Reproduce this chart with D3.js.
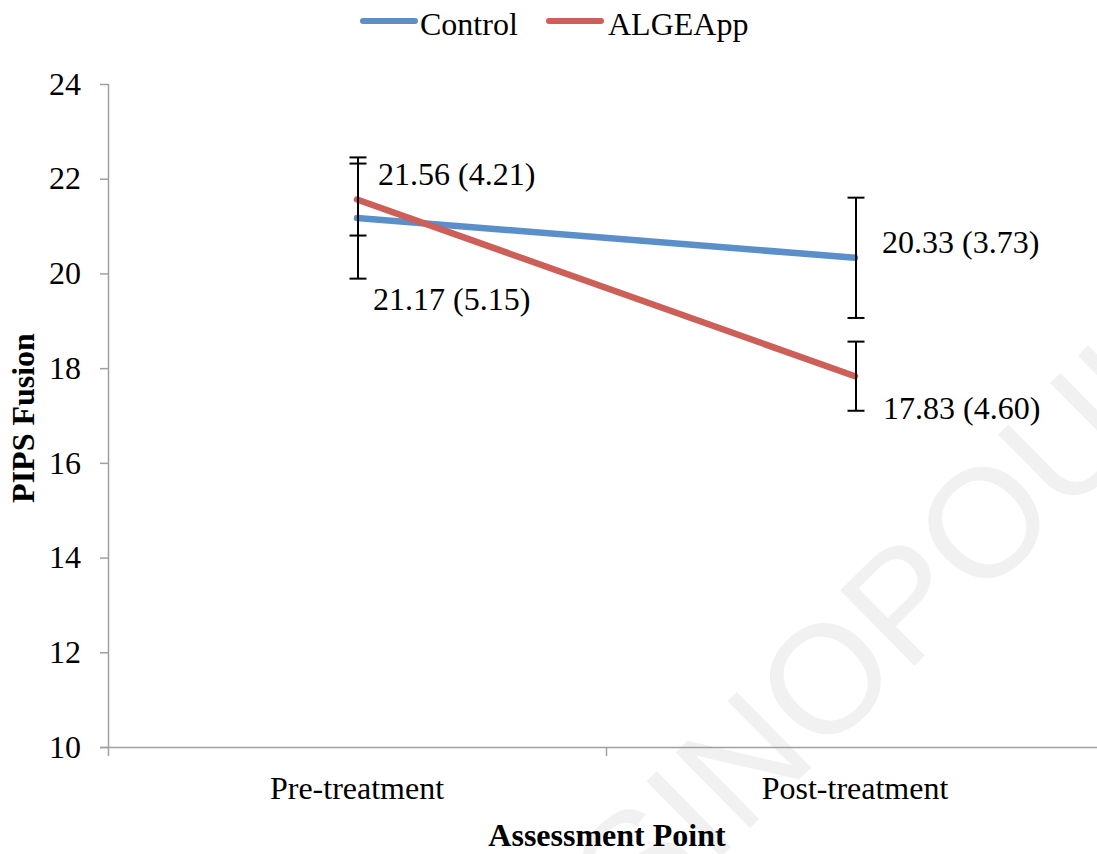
<!DOCTYPE html>
<html>
<head>
<meta charset="utf-8">
<script src="https://cdn.jsdelivr.net/npm/d3@7"></script>
<style>
  html, body { margin: 0; padding: 0; background: #fff; }
  svg { display: block; }
  text { font-family: "Liberation Serif", "Times New Roman", serif; }
</style>
</head>
<body>
<div id="chart"></div>
<script>
// ---- data ----
const categories = ["Pre-treatment", "Post-treatment"];
const seriesNames = ["Control", "ALGEApp"];
const controlMeans = [21.17, 20.33];
const controlSD = [5.15, 3.73];
const controlErr = [1.28, 1.27];
const algeMeans = [21.56, 17.83];
const algeSD = [4.21, 4.60];
const algeErr = [0.76, 0.73];
const yTicks = [10, 12, 14, 16, 18, 20, 22, 24];
const watermarkText = "SINOPOULOU";

// ---- layout ----
const W = 1097, H = 854;
const colors = { Control: "#5b8fc9", ALGEApp: "#cc5f58" };
// label offsets relative to the point (px)
const labelOffsets = {
  Control: [[16, 92], [27, -5]],
  ALGEApp: [[21, -15], [28, 43]]
};

const series = [
  { name: "Control", means: controlMeans, sd: controlSD, err: controlErr },
  { name: "ALGEApp", means: algeMeans, sd: algeSD, err: algeErr }
];

const svg = d3.select("#chart").append("svg")
  .attr("width", W).attr("height", H);

// watermark
const wm = svg.append("g")
  .attr("transform", "translate(824,677) rotate(-44.6)");
wm.append("text")
  .attr("x", -154 * 2.056)
  .attr("y", 154 * 0.36)
  .style("font-family", "'Liberation Sans', Arial, sans-serif")
  .attr("font-size", 154)
  .attr("fill", "#f1f1f1")
  .text(watermarkText);

const x = d3.scaleBand().domain(categories).range([108, 1104]).padding(0);
const y = d3.scaleLinear().domain([10, 24]).range([747, 84]);
const cx = c => x(c) + x.bandwidth() / 2;

const axisColor = "#a0a0a0";

// Y axis
const yAxis = svg.append("g").attr("transform", "translate(108,0)")
  .call(d3.axisLeft(y).tickValues(yTicks).tickSize(8).tickPadding(19).tickSizeOuter(0));
yAxis.select(".domain").attr("stroke", axisColor).attr("stroke-width", 1.5)
  .attr("d", `M0.5,${y(24)}V756`);
yAxis.selectAll(".tick line").attr("stroke", axisColor).attr("stroke-width", 1.5);
yAxis.selectAll(".tick text").attr("font-size", 32).attr("fill", "#000")
  .style("font-family", "'Liberation Serif', 'Times New Roman', serif");

// X axis
const xAxis = svg.append("g").attr("transform", `translate(0,${y(10)})`)
  .call(d3.axisBottom(x).tickSize(0).tickPadding(0));
xAxis.select(".domain").attr("stroke", axisColor).attr("stroke-width", 1.5)
  .attr("d", `M100,0.5H1104`);
xAxis.selectAll(".tick line").remove();
xAxis.selectAll(".tick text").attr("font-size", 32).attr("fill", "#000")
  .attr("dy", 0).attr("y", 52)
  .style("font-family", "'Liberation Serif', 'Times New Roman', serif");
// category boundary ticks
xAxis.selectAll(".bound").data(categories.slice(1)).enter().append("line")
  .attr("class", "bound")
  .attr("x1", d => x(d) + 0.5).attr("x2", d => x(d) + 0.5)
  .attr("y1", 0).attr("y2", 9)
  .attr("stroke", axisColor).attr("stroke-width", 1.5);

// axis titles
svg.append("text")
  .attr("x", 607).attr("y", 846)
  .attr("text-anchor", "middle").attr("font-size", 32).attr("font-weight", "bold")
  .text("Assessment Point");
svg.append("text")
  .attr("transform", "translate(34,418) rotate(-90)")
  .attr("text-anchor", "middle").attr("font-size", 32).attr("font-weight", "bold")
  .text("PIPS Fusion");

// lines
const line = d3.line().x(d => cx(d.c)).y(d => y(d.v));
series.forEach(s => {
  svg.append("path")
    .datum(categories.map((c, i) => ({ c, v: s.means[i] })))
    .attr("d", line)
    .attr("fill", "none")
    .attr("stroke", colors[s.name])
    .attr("stroke-width", 6.5)
    .attr("stroke-linecap", "round")
    .attr("stroke-linejoin", "round");
});

// error bars
series.forEach(s => {
  const g = svg.append("g");
  categories.forEach((c, i) => {
    const xc = cx(c) + 1;
    const lo = y(s.means[i] - s.err[i]);
    const hi = y(s.means[i] + s.err[i]);
    g.append("line").attr("x1", xc).attr("x2", xc).attr("y1", hi).attr("y2", lo)
      .attr("stroke", "#000").attr("stroke-width", 2);
    [hi, lo].forEach(yy => {
      g.append("line").attr("x1", xc - 8.5).attr("x2", xc + 8.5)
        .attr("y1", yy).attr("y2", yy)
        .attr("stroke", "#000").attr("stroke-width", 2);
    });
  });
});

// data labels
series.forEach(s => {
  categories.forEach((c, i) => {
    const off = labelOffsets[s.name][i];
    svg.append("text")
      .attr("x", cx(c) + off[0])
      .attr("y", y(s.means[i]) + off[1])
      .attr("font-size", 32)
      .text(`${s.means[i].toFixed(2)} (${s.sd[i].toFixed(2)})`);
  });
});

// legend
const legendItems = [
  { name: "Control", x1: 363, x2: 415, tx: 420 },
  { name: "ALGEApp", x1: 549, x2: 601, tx: 608 }
];
const lg = svg.append("g");
legendItems.forEach(it => {
  lg.append("line").attr("x1", it.x1).attr("x2", it.x2).attr("y1", 21).attr("y2", 21)
    .attr("stroke", colors[it.name]).attr("stroke-width", 6).attr("stroke-linecap", "round");
  lg.append("text").attr("x", it.tx).attr("y", 35).attr("font-size", 32).text(it.name);
});
</script>
</body>
</html>
